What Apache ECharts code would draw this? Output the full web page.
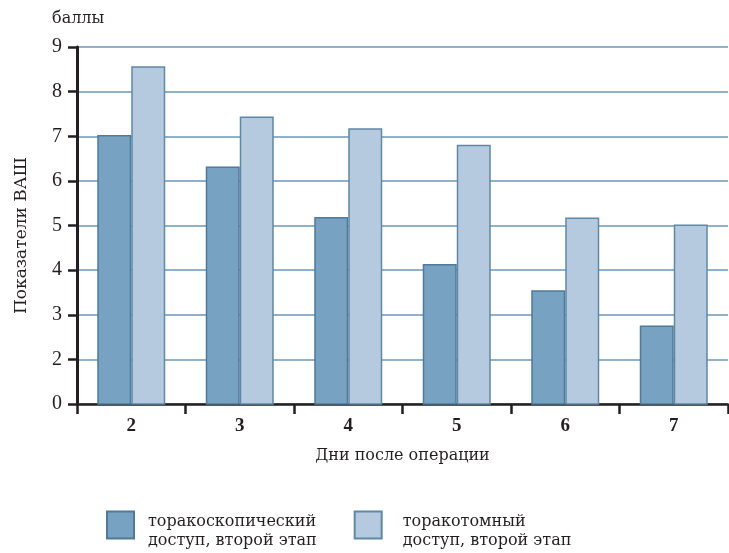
<!DOCTYPE html>
<html>
<head>
<meta charset="utf-8">
<script src="https://cdn.jsdelivr.net/npm/echarts@6/dist/echarts.min.js"></script>
<style>html,body{margin:0;padding:0;background:#fff}#c{width:729px;height:553px}</style>
</head>
<body>
<div id="c"></div>
<script>
const categories = ['2', '3', '4', '5', '6', '7'];
const thoracoscopic = [7.03, 6.32, 5.19, 4.14, 3.55, 2.76];
const thoracotomy = [8.57, 7.44, 7.18, 6.81, 5.18, 5.02];
const seriesNames = ['торакоскопический\nдоступ, второй этап', 'торакотомный\nдоступ, второй этап'];
const yTicks = [1, 2, 3, 4, 5, 6, 7, 8, 9]; // bottom tick is labelled "0" (axis break in source)

const serif = 'Liberation Serif';
const wide = 'DejaVu Serif';
const chart = echarts.init(document.getElementById('c'), null, {renderer: 'canvas'});
chart.setOption({
  animation: false,
  backgroundColor: '#ffffff',
  title: {
    text: 'баллы', left: 52, top: 11, padding: 0,
    textStyle: {fontFamily: wide, fontSize: 16, fontWeight: 'normal', color: '#231f20'}
  },
  grid: {left: 77, right: 1, top: 47, bottom: 149, containLabel: false, outerBoundsMode: 'none'},
  legend: {
    left: 106, top: 504, orient: 'horizontal', padding: 0,
    icon: 'rect',
    itemWidth: 27, itemHeight: 27, itemGap: 37,
    formatter: name => '{s| }\n' + name.split('\n').map(l => '{t|' + l + '}').join('\n'),
    textStyle: {
      fontFamily: wide, fontSize: 16, color: '#231f20', padding: [0, 0, 0, 9],
      rich: {
        s: {fontFamily: wide, fontSize: 4, lineHeight: 12},
        t: {fontFamily: wide, fontSize: 16, lineHeight: 19, color: '#231f20'}
      }
    },
    data: [
      {name: seriesNames[0]},
      {name: seriesNames[1], textStyle: {padding: [0, 0, 0, 16]}}
    ]
  },
  xAxis: {
    type: 'category', data: categories,
    name: 'Дни после операции', nameLocation: 'middle', nameGap: 44,
    nameTextStyle: {fontFamily: wide, fontSize: 16, color: '#231f20'},
    axisLine: {lineStyle: {color: '#231f20', width: 2.5}},
    axisTick: {show: true, length: 10, lineStyle: {color: '#231f20', width: 2.5}},
    axisLabel: {fontFamily: serif, fontSize: 19, fontWeight: 'bold', color: '#231f20', margin: 13},
    splitLine: {show: false}
  },
  yAxis: {
    type: 'value', min: yTicks[0], max: yTicks[yTicks.length - 1], interval: 1,
    name: 'Показатели ВАШ', nameLocation: 'middle', nameGap: 47,
    nameTextStyle: {fontFamily: wide, fontSize: 17, color: '#231f20', padding: [0, 20, 0, 0]},
    axisLine: {show: true, lineStyle: {color: '#231f20', width: 3}},
    axisTick: {show: true, length: 9, lineStyle: {color: '#231f20', width: 2.5}},
    axisLabel: {
      fontFamily: serif, fontSize: 20, color: '#231f20', margin: 15,
      formatter: v => (v === yTicks[0] ? '0' : String(v))
    },
    splitLine: {show: true, lineStyle: {color: '#8fb1c9', width: 1.8}}
  },
  series: [
    {
      name: seriesNames[0], type: 'bar', data: thoracoscopic,
      barWidth: 34, barGap: '0%',
      itemStyle: {color: '#77a2c2', borderColor: '#4f7a98', borderWidth: 1.5}
    },
    {
      name: seriesNames[1], type: 'bar', data: thoracotomy,
      barWidth: 34, barGap: '0%',
      itemStyle: {color: '#b5cadf', borderColor: '#5f88a6', borderWidth: 1.5}
    }
  ]
});
</script>
</body>
</html>
